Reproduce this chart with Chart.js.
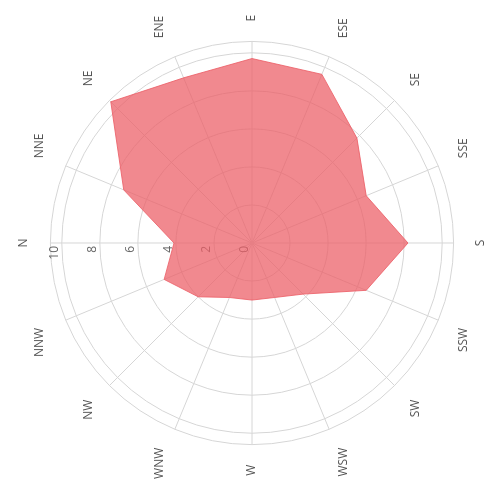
<!DOCTYPE html>
<html>
<head>
<meta charset="utf-8">
<script src="https://cdn.jsdelivr.net/npm/chart.js@4"></script>
<style>
  html, body { margin: 0; padding: 0; background: #fff; overflow: hidden; }
  #page { position: relative; width: 491px; height: 501px; }
  /* the whole chart is turned a quarter turn to the left */
  #turn {
    position: absolute; left: -5px; top: 5px;
    width: 501px; height: 491px;
    transform: rotate(-90deg); transform-origin: 50% 50%;
  }
</style>
</head>
<body>
<div id="page"><div id="turn"><canvas id="rosa" width="501" height="491"></canvas></div></div>
<script>
// ----------------- datos -----------------
const direcciones = ["N", "NNE", "NE", "ENE", "E", "ESE", "SE", "SSE",
                     "S", "SSW", "SW", "WSW", "W", "WNW", "NW", "NNW"];
const valores = [4.1, 7.3, 10.5, 9.4, 9.7, 9.6, 7.8, 6.5,
                 8.2, 6.5, 3.8, 3.1, 3.0, 3.1, 4.0, 5.0];
const marcas = [0, 2, 4, 6, 8, 10];
const maximo = 10.6;

// etiquetas de la escala dibujadas a mano (incluye el 0), debajo del relleno
const etiquetasEscala = {
    id: "etiquetasEscala",
    beforeDatasetsDraw(chart) {
        const r = chart.scales.r;
        const ctx = chart.ctx;
        ctx.save();
        ctx.font = "12px 'Open Sans'";
        ctx.fillStyle = "#666";
        ctx.textAlign = "right";
        ctx.textBaseline = "bottom";
        marcas.forEach((m) => {
            const d = r.getDistanceFromCenterForValue(m);
            ctx.fillText(String(m), r.xCenter - 3, r.yCenter - d - 1);
        });
        ctx.restore();
    },
};

let grafica = new Chart(document.getElementById("rosa").getContext("2d"), {
    type: "radar",
    data: {
        labels: direcciones,
        datasets: [
            {
                data: valores,
                backgroundColor: "rgba(236, 96, 104, 0.74)",
                borderColor: "rgba(236, 96, 104, 0.85)",
                borderWidth: 1,
                pointRadius: 0,
                fill: true,
            },
        ],
    },
    options: {
        responsive: false,
        animation: false,
        layout: { padding: { left: 12, right: 3, top: 16, bottom: 3 } },
        plugins: { legend: { display: false }, tooltip: { enabled: false } },
        scales: {
            r: {
                min: 0,
                max: maximo,
                ticks: {
                    stepSize: 2,
                    display: false,
                },
                grid: { circular: true, color: "#d6d6d6", lineWidth: 1 },
                angleLines: { color: "#d6d6d6", lineWidth: 1 },
                pointLabels: {
                    padding: 20,
                    color: "#555",
                    font: { family: "'Open Sans'", size: 12 },
                },
            },
        },
    },
    plugins: [etiquetasEscala],
});
</script>
</body>
</html>
